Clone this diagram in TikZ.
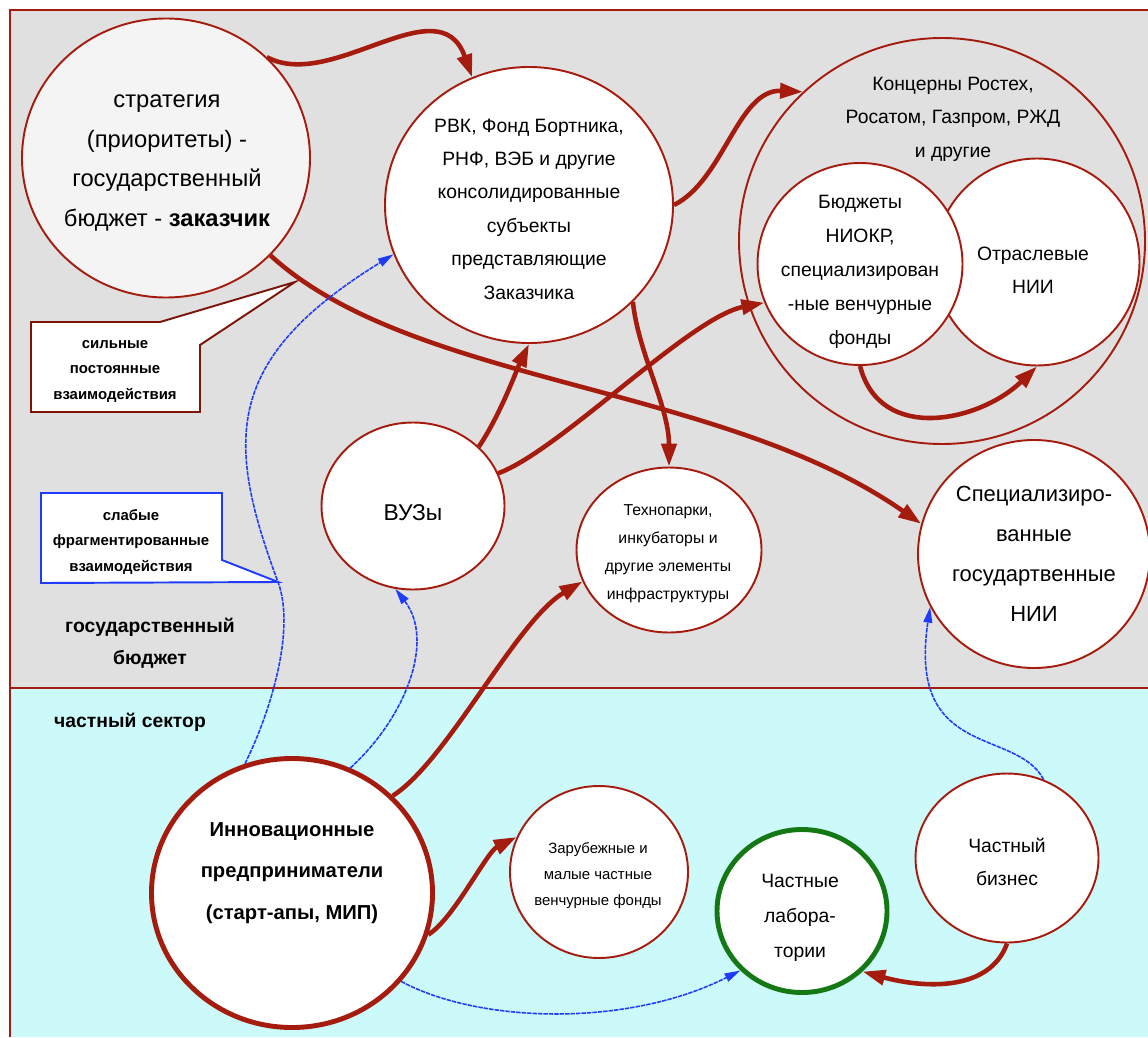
\documentclass[tikz,border=0pt]{standalone}
\usepackage{fontspec}
\setmainfont{Liberation Sans}
\usetikzlibrary{arrows.meta,shapes.geometric}
\definecolor{brd}{RGB}{165,28,15}
\definecolor{brddark}{RGB}{125,20,10}
\definecolor{govbg}{RGB}{224,224,224}
\definecolor{privbg}{RGB}{204,250,250}
\definecolor{stratbg}{RGB}{244,244,244}
\definecolor{labgreen}{RGB}{20,120,20}
\definecolor{wblue}{RGB}{30,60,250}
\begin{document}
\begin{tikzpicture}[x=0.02cm, y=-0.02cm,
    bubble/.style={ellipse, draw=brd, line width=1.1pt, fill=white, inner sep=0pt},
    dims/.style 2 args={minimum width=#1*0.02cm, minimum height=#2*0.02cm},
    strong/.style={draw=brd, line width=2.6pt, -{Triangle[length=13pt,width=8.5pt]}},
    weak/.style={draw=wblue, line width=0.9pt, dash pattern=on 2.5pt off 0.6pt,
      -{Triangle[length=9pt,width=5pt]}},
    lbl/.style={align=center, inner sep=0pt}]
  \useasboundingbox (0,0) rectangle (1148,1037);
  % two sectors
  \fill[govbg] (10,10) rectangle (1148,688);
  \fill[privbg] (10,688) rectangle (1148,1037);
  \draw[brd, line width=1.1pt] (1148,10) -- (10,10) -- (10,1037);
  \draw[brd, line width=1.1pt] (10,688) -- (1148,688);
  \node[lbl, font=\bfseries\fontsize{11}{18}\selectfont] (gov_t) at (150,643)
    {государственный\\бюджет};
  \node[lbl, font=\bfseries\fontsize{11}{13}\selectfont] (priv_t) at (130,722)
    {частный сектор};

  % state side
  \node[bubble, fill=stratbg, dims={288}{279}] (strat) at (166,158) {};
  \node[lbl, font=\fontsize{13.5}{22.7}\selectfont] (strat_t) at (167,163)
    {стратегия\\(приоритеты) -\\государственный\\бюджет - \textbf{заказчик}};
  \node[bubble, dims={288}{276}] (rvk) at (529,205) {};
  \node[lbl, font=\fontsize{11}{19}\selectfont] (rvk_t) at (529,209)
    {РВК, Фонд Бортника,\\РНФ, ВЭБ и другие\\консолидированные\\субъекты\\представляющие\\Заказчика};
  \node[bubble, fill=none, dims={406}{406}] (konc) at (942,241) {};
  \node[lbl, font=\fontsize{11}{19}\selectfont] (konc_t) at (953,119)
    {Концерны Ростех,\\Росатом, Газпром, РЖД\\и другие};
  \node[bubble, dims={205}{207}] (otr) at (1037,262) {};
  \node[lbl, font=\fontsize{11}{19}\selectfont] (otr_t) at (1033,270) {Отраслевые\\НИИ};
  \node[bubble, dims={205}{202}] (budg) at (860,264) {};
  \node[lbl, font=\fontsize{11}{19.3}\selectfont] (budg_t) at (860,272)
    {Бюджеты\\НИОКР,\\специализирован\\-ные венчурные\\фонды};
  \node[bubble, dims={183}{167}] (vuz) at (413,506) {};
  \node[lbl, font=\fontsize{13}{22}\selectfont] (vuz_t) at (413,513) {ВУЗы};
  \node[bubble, dims={185}{165}] (tech) at (669,550) {};
  \node[lbl, font=\fontsize{9}{16}\selectfont] (tech_t) at (668,554)
    {Технопарки,\\инкубаторы и\\другие элементы\\инфраструктуры};
  \node[bubble, dims={232}{228}] (spec) at (1034,554) {};
  \node[lbl, font=\fontsize{12.5}{22.7}\selectfont] (spec_t) at (1034,554)
    {Специализиро-\\ванные\\государтвенные\\НИИ};

  % private side
  \node[bubble, line width=2.8pt, dims={281}{269}] (innov) at (292,893) {};
  \node[lbl, font=\bfseries\fontsize{11.5}{23.8}\selectfont] (innov_t) at (292,873)
    {Инновационные\\предприниматели\\(старт-апы, МИП)};
  \node[bubble, dims={178}{172}] (zar) at (599,872) {};
  \node[lbl, font=\fontsize{8.5}{14.8}\selectfont] (zar_t) at (598,876)
    {Зарубежные и\\малые частные\\венчурные фонды};
  \node[bubble, draw=labgreen, line width=2.8pt, dims={170}{163}] (lab) at (802,911) {};
  \node[lbl, font=\fontsize{11}{20}\selectfont] (lab_t) at (800,918)
    {Частные\\лабора-\\тории};
  \node[bubble, dims={183}{169}] (biz) at (1007,858) {};
  \node[lbl, font=\fontsize{11}{19}\selectfont] (biz_t) at (1007,862) {Частный\\бизнес};

  % callouts
  \draw[brddark, line width=1.1pt, fill=white]
    (31,322) -- (160,322) -- (295,282) -- (200,345) -- (200,412) -- (31,412) -- cycle;
  \node[lbl, font=\bfseries\fontsize{8.5}{14.5}\selectfont] (strong_t) at (115,371)
    {сильные\\постоянные\\взаимодействия};
  \coordinate (weak_tip) at (278,582);
  \draw[wblue, line width=1.1pt, fill=white]
    (41,493) -- (222,493) -- (222,560) -- (weak_tip) -- (41,583) -- cycle;
  \node[lbl, font=\bfseries\fontsize{8.5}{14.5}\selectfont] (weak_t) at (131,542)
    {слабые\\фрагментированные\\взаимодействия};

  % strong links
  \draw[strong] (strat.45) .. controls +(65,35) and +(-33,-93) .. (rvk.114);
  \draw[strong] (strat.-43) .. controls +(142,130) and +(-200,-140) .. (spec.165);
  \draw[strong] (rvk.0) .. controls +(50,-25) and +(-65,-3) .. (konc.133);
  \draw[strong] (rvk.-43) .. controls +(5,50) and +(0,-60) .. (tech.90);
  \draw[strong] (vuz.42) .. controls +(22,-33) and +(-12,25) .. (rvk.-90);
  \draw[strong] (vuz.21) .. controls +(62,-23) and +(-75,15) .. (budg.202);
  \draw[strong] (budg.-90) .. controls +(20,78) and +(-57,55) .. (otr.-90);
  \draw[strong] (innov.44) .. controls +(55,-35) and +(-67,40) .. (tech.200);
  \draw[strong] (innov.-17) .. controls +(25,-15) and +(-30,15) .. (zar.157);
  \draw[strong] (biz.-90) .. controls +(-17,48) and +(62,17) .. (lab.-45);

  % weak links
  \draw[weak] (innov.110) .. controls +(25,-50) and +(18,48) .. (weak_tip)
    .. controls +(-53,-142) and +(-170,105) .. (rvk.200);
  \draw[weak] (innov.65) .. controls +(55,-50) and +(40,52) .. (vuz.258);
  \draw[weak] (innov.-39) .. controls +(78,42) and +(-113,57) .. (lab.224);
  \draw[weak] (biz.65) .. controls +(-27,-52) and +(-23,153) .. (spec.207);
\end{tikzpicture}
\end{document}
